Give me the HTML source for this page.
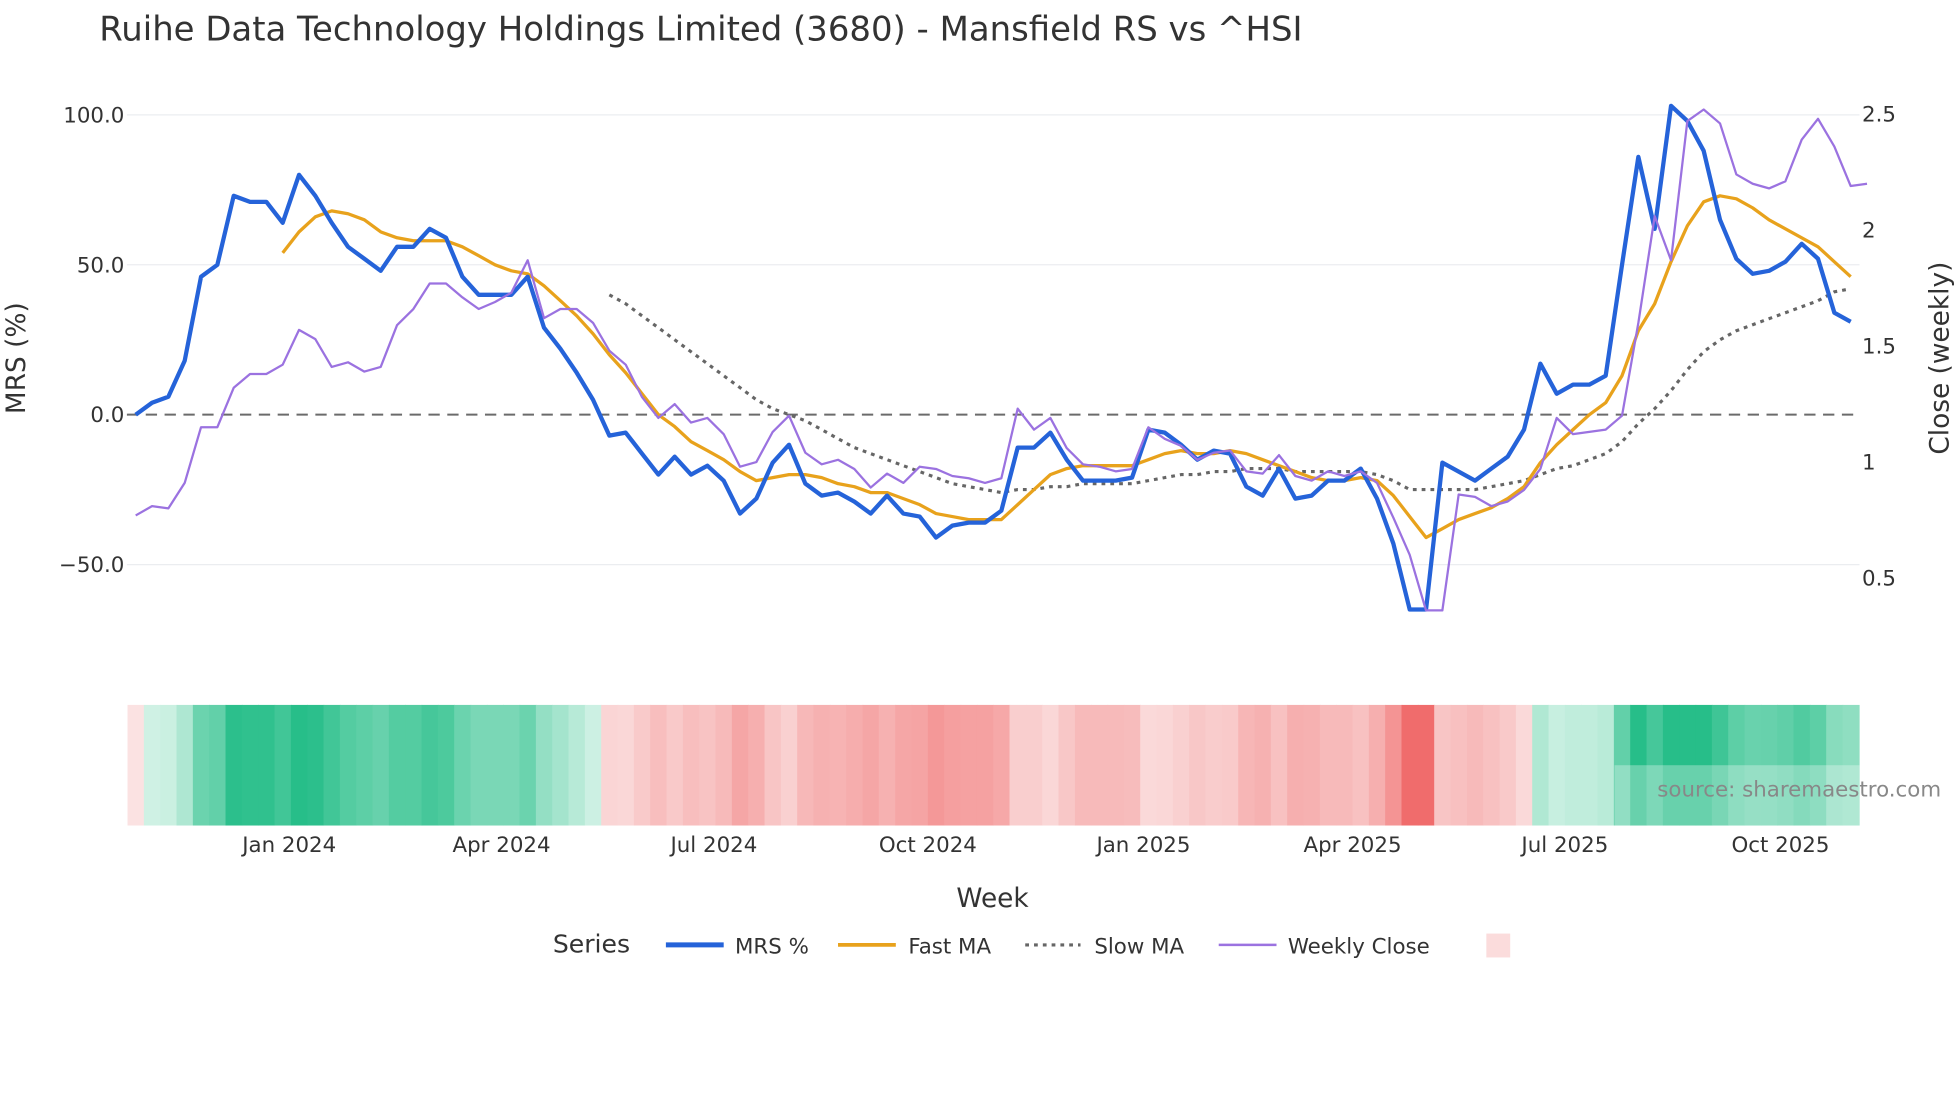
<!DOCTYPE html>
<html><head><meta charset="utf-8"><style>
html,body{margin:0;padding:0;background:#fff;}
svg{display:block;font-family:"DejaVu Sans","Liberation Sans",sans-serif;}
</style></head><body>
<svg id="chart" width="1960" height="1102" viewBox="0 0 1560 877" xmlns="http://www.w3.org/2000/svg">
<text x="79" y="32" font-size="27" fill="#333">Ruihe Data Technology Holdings Limited (3680) - Mansfield RS vs ^HSI</text>
<g id="grid"></g>
<g id="heat"></g>
<rect x="1285" y="609" width="195" height="48" fill="rgba(255,255,255,0.3)"/>
<text x="1545" y="634" font-size="17" fill="#888" text-anchor="end">source: sharemaestro.com</text>
<g id="lines"></g>
<g id="axes"></g>
<text x="790" y="722" font-size="21" fill="#333" text-anchor="middle">Week</text>
<text x="0" y="0" font-size="21" fill="#333" text-anchor="middle" transform="translate(20,285) rotate(-90)">MRS (%)</text>
<text x="0" y="0" font-size="21" fill="#333" text-anchor="middle" transform="translate(1551,285) rotate(-90)">Close (weekly)</text>
<g>
<text x="440" y="758" font-size="20" fill="#333">Series</text>
<g><line x1="530" y1="752" x2="576" y2="752" stroke="#2563d9" stroke-width="4"/><text x="585" y="759" font-size="17" fill="#333">MRS %</text></g>
<g><line x1="667" y1="752" x2="713" y2="752" stroke="#e8a21c" stroke-width="3"/><text x="723" y="759" font-size="17" fill="#333">Fast MA</text></g>
<g><line x1="816" y1="752" x2="860" y2="752" stroke="#666" stroke-width="2.5" stroke-dasharray="3,4"/><text x="871" y="759" font-size="17" fill="#333">Slow MA</text></g>
<g><line x1="970" y1="752" x2="1016" y2="752" stroke="#9b72e0" stroke-width="2"/><text x="1025" y="759" font-size="17" fill="#333">Weekly Close</text></g>
<rect x="1183" y="743" width="19" height="19" fill="#fbdcdc"/>
</g>
</svg>
<script>
const mrs=[0,4,6,18,46,50,73,71,71,64,80,73,64,56,52,48,56,56,62,59,46,40,40,40,46,29,22,14,5,-7,-6,-13,-20,-14,-20,-17,-22,-33,-28,-16,-10,-23,-27,-26,-29,-33,-27,-33,-34,-41,-37,-36,-36,-32,-11,-11,-6,-15,-22,-22,-22,-21,-5,-6,-10,-15,-12,-13,-24,-27,-18,-28,-27,-22,-22,-18,-28,-43,-65,-65,-16,-19,-22,-18,-14,-5,17,7,10,10,13,50,86,62,103,98,88,65,52,47,48,51,57,52,34,31];
const fastMA=[null,null,null,null,null,null,null,null,null,54,61,66,68,67,65,61,59,58,58,58,56,53,50,48,47,43,38,33,27,20,14,7,0,-4,-9,-12,-15,-19,-22,-21,-20,-20,-21,-23,-24,-26,-26,-28,-30,-33,-34,-35,-35,-35,-30,-25,-20,-18,-17,-17,-17,-17,-15,-13,-12,-13,-13,-12,-13,-15,-17,-19,-21,-22,-22,-21,-22,-27,-34,-41,-38,-35,-33,-31,-28,-24,-16,-10,-5,0,4,13,28,37,51,63,71,73,72,69,65,62,59,56,51,46];
const slowMA=[null,null,null,null,null,null,null,null,null,null,null,null,null,null,null,null,null,null,null,null,null,null,null,null,null,null,null,null,null,40,37,33,29,25,21,17,13,9,5,2,0,-2,-5,-8,-11,-13,-15,-17,-19,-21,-23,-24,-25,-26,-25,-25,-24,-24,-23,-23,-23,-23,-22,-21,-20,-20,-19,-19,-18,-18,-18,-19,-19,-19,-19,-19,-20,-22,-25,-25,-25,-25,-25,-24,-23,-22,-20,-18,-17,-15,-13,-9,-3,2,8,15,21,25,28,30,32,34,36,38,41,42];
const close=[0.77,0.81,0.80,0.91,1.15,1.15,1.32,1.38,1.38,1.42,1.57,1.53,1.41,1.43,1.39,1.41,1.59,1.66,1.77,1.77,1.71,1.66,1.69,1.73,1.87,1.62,1.66,1.66,1.60,1.48,1.42,1.28,1.19,1.25,1.17,1.19,1.12,0.98,1.00,1.13,1.20,1.04,0.99,1.01,0.97,0.89,0.95,0.91,0.98,0.97,0.94,0.93,0.91,0.93,1.23,1.14,1.19,1.06,0.99,0.98,0.96,0.97,1.15,1.10,1.07,1.01,1.04,1.05,0.96,0.95,1.03,0.94,0.92,0.96,0.94,0.96,0.91,0.76,0.60,0.36,0.36,0.86,0.85,0.81,0.83,0.88,0.97,1.19,1.12,1.13,1.14,1.20,1.60,2.06,1.87,2.47,2.52,2.46,2.24,2.20,2.18,2.21,2.39,2.48,2.36,2.19,2.20];
const leftTicks=[100,50,0,-50];
const leftTickLabels=["100.0","50.0","0.0","\u221250.0"];
const rightTicks=[2.5,2,1.5,1,0.5];
const rightTickLabels=["2.5","2","1.5","1","0.5"];
const monthLabels=["Jan 2024","Apr 2024","Jul 2024","Oct 2024","Jan 2025","Apr 2025","Jul 2025","Oct 2025"];
const monthWeekIdx=[9.4,22.4,35.4,48.5,61.7,74.5,87.5,100.7];

const NS="http://www.w3.org/2000/svg";
const X0=108, DX=13.0;
const xs=i=>X0+i*DX;
const yL=v=>330-v*2.386;
const yR=c=>460-(c-0.5)*184.6;
function mk(tag,attrs,parent){const e=document.createElementNS(NS,tag);for(const k in attrs)e.setAttribute(k,attrs[k]);parent.appendChild(e);return e;}
const grid=document.getElementById('grid'),axes=document.getElementById('axes'),lines=document.getElementById('lines'),heat=document.getElementById('heat');
leftTicks.forEach((v,i)=>{
  if(v!==0){const g=mk('line',{x1:101,x2:1480,y1:yL(v),y2:yL(v),stroke:'#ebedf0','stroke-width':1},grid);
  
  }
  const t=mk('text',{x:99,y:yL(v)+6,'font-size':17,fill:'#333','text-anchor':'end'},axes);t.textContent=leftTickLabels[i];
  
  
});
rightTicks.forEach((v,i)=>{
  const t=mk('text',{x:1482,y:yR(v)+6,'font-size':17,fill:'#333'},axes);t.textContent=rightTickLabels[i];
  
  
});
monthLabels.forEach((m,i)=>{
  const t=mk('text',{x:xs(monthWeekIdx[i]),y:678,'font-size':17,fill:'#333','text-anchor':'middle'},axes);t.textContent=m;
  
  
});
const zl=mk('line',{x1:101,x2:1480,y1:yL(0),y2:yL(0),stroke:'#6b6b6b','stroke-width':1.6,'stroke-dasharray':'9,6'},lines);


function mixc(a,b,t){return 'rgb('+a.map((x,k)=>Math.round(x+(b[k]-x)*t)).join(',')+')';}
mrs.forEach((v,i)=>{
  let col;
  if(v>0){col=mixc([216,244,233],[39,190,137],Math.min(v/75,1));}
  else{col=mixc([251,226,226],[240,108,108],Math.min(-v/65,1));}
  const r=mk('rect',{x:xs(i)-DX/2,y:561,width:DX+0.6,height:96,fill:col},heat);
  
  
});
function path(arr,yf,attrs,name){
  let d='';let started=false;
  arr.forEach((v,i)=>{if(v===null)return;d+=(started?'L':'M')+xs(i).toFixed(1)+','+yf(v).toFixed(1);started=true;});
  const p=mk('path',Object.assign({d:d,fill:'none','stroke-linejoin':'round'},attrs),lines);
  
  
}
path(slowMA,yL,{stroke:'#666','stroke-width':2.5,'stroke-dasharray':'3,4'},'slow-ma-line');
path(fastMA,yL,{stroke:'#e8a21c','stroke-width':2.6},'fast-ma-line');
path(mrs,yL,{stroke:'#2563d9','stroke-width':3.4},'mrs-line');
path(close,yR,{stroke:'#9b72e0','stroke-width':1.8},'weekly-close-line');
</script>
</body></html>
